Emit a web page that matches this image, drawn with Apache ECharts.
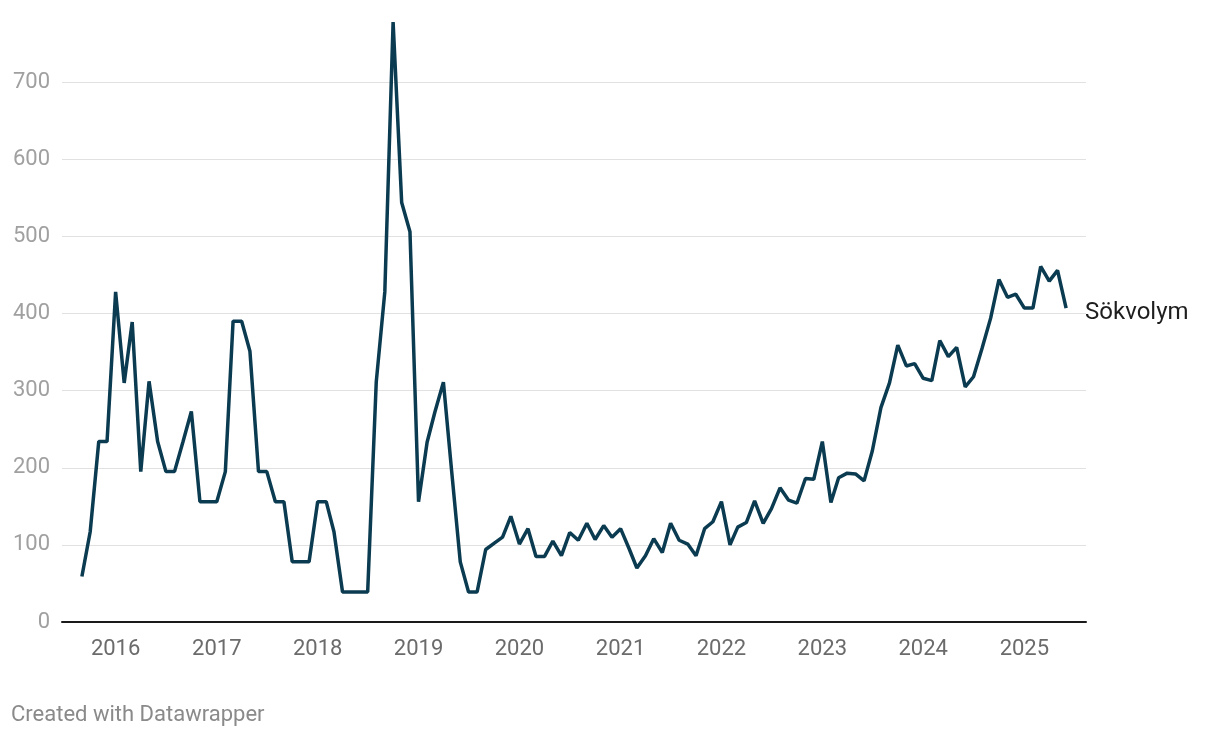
<!DOCTYPE html>
<html>
<head>
<meta charset="utf-8">
<script src="https://cdn.jsdelivr.net/npm/echarts@6/dist/echarts.min.js"></script>
<style>
  html, body { margin: 0; padding: 0; background: #fff; }
  #chart { width: 1220px; height: 738px; }
</style>
</head>
<body>
<div id="chart"></div>
<script>
// månadsdata, sep 2015 - jun 2025
var startYear = 2015, startMonth = 9;
var sokvolym = [
  59, 117, 234, 234,
  428, 310, 389, 195, 312, 234, 195, 195, 234, 273, 156, 156,
  156, 195, 390, 390, 351, 195, 195, 156, 156, 78, 78, 78,
  156, 156, 117, 39, 39, 39, 39, 311, 428, 778, 544, 506,
  156, 233, 272, 311, 195, 78, 39, 39, 94, 102, 110, 137,
  101, 121, 85, 85, 105, 86, 116, 106, 128, 107, 125, 110,
  121, 95, 70, 86, 108, 90, 128, 106, 101, 86, 121, 130,
  156, 100, 123, 129, 157, 128, 147, 174, 158, 154, 186, 185,
  234, 155, 187, 193, 192, 183, 222, 278, 310, 359, 332, 335,
  316, 313, 365, 344, 356, 305, 318, 355, 394, 444, 421, 425,
  407, 407, 461, 442, 456, 407
];
var seriesName = 'Sökvolym';
var yTicks = [0, 100, 200, 300, 400, 500, 600, 700];

function pad(n) { return n < 10 ? '0' + n : '' + n; }
var months = [];
for (var i = 0; i < sokvolym.length; i++) {
  var m = startMonth - 1 + i;
  months.push((startYear + Math.floor(m / 12)) + '-' + pad(m % 12 + 1) + '-01');
}
var lineData = months.map(function (d, i) { return [d, sokvolym[i]]; });

var DAY = 24 * 3600 * 1000;
var myChart = echarts.init(document.getElementById('chart'));
var option = {
  animation: false,
  textStyle: { fontFamily: 'Roboto' },
  title: {
    text: 'Created with Datawrapper',
    left: 11,
    top: 704,
    padding: 0,
    textStyle: { fontSize: 22, fontWeight: 'normal', color: '#8a8a8a', fontFamily: 'Roboto' }
  },
  grid: { left: 62, right: 134, top: 5, bottom: 116, containLabel: false },
  xAxis: {
    type: 'time',
    min: '2015-06-21',
    max: '2025-08-12',
    splitNumber: 10,
    minInterval: 365 * DAY,
    maxInterval: 366 * DAY,
    axisLine: { show: true, lineStyle: { color: '#1a1a1a', width: 2 } },
    axisTick: { show: false },
    splitLine: { show: false },
    axisLabel: {
      formatter: '{yyyy}',
      color: '#6b6b6b',
      fontSize: 22,
      margin: 16,
      hideOverlap: false,
      fontFamily: 'Roboto'
    }
  },
  yAxis: {
    type: 'value',
    min: 0,
    max: 800,
    interval: 100,
    axisLine: { show: false },
    axisTick: { show: false },
    splitLine: { show: true, showMaxLine: false, lineStyle: { color: '#e1e1e1', width: 1 } },
    axisLabel: {
      showMaxLabel: false,
      color: '#a0a0a0',
      fontSize: 22,
      margin: 12,
      fontFamily: 'Roboto',
      formatter: function (v) { return yTicks.indexOf(v) >= 0 ? String(v) : ''; }
    }
  },
  series: [{
    name: seriesName,
    type: 'line',
    data: lineData,
    showSymbol: false,
    lineStyle: { color: '#0b3b50', width: 3.5 },
    itemStyle: { color: '#0b3b50' },
    endLabel: {
      show: true,
      formatter: seriesName,
      color: '#1e1e1e',
      fontSize: 24,
      distance: 19,
      offset: [0, 5],
      fontFamily: 'Roboto'
    },
    z: 3
  }]
};
myChart.setOption(option);
</script>
</body>
</html>
